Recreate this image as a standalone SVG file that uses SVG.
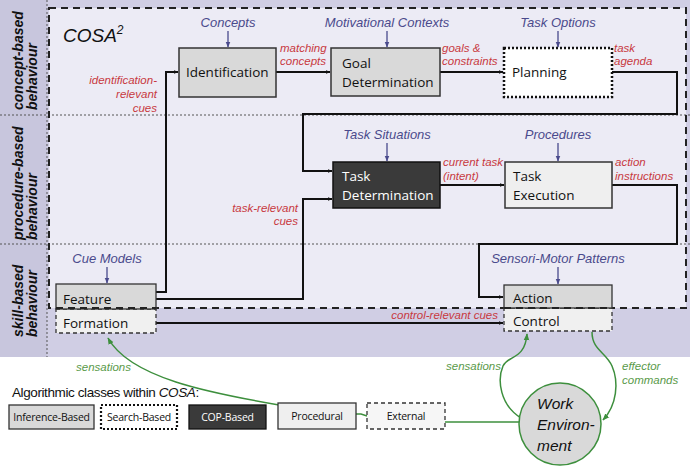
<svg xmlns="http://www.w3.org/2000/svg" width="692" height="471" viewBox="0 0 692 471">
<style>
.node{font-family:"Open Sans","Liberation Sans",sans-serif;font-size:13.5px;fill:#111}
.blue{font-family:"Liberation Sans",Arial,sans-serif;font-style:italic;font-size:13px;fill:#4a4a8c}
.red{font-family:"Liberation Sans",Arial,sans-serif;font-style:italic;font-size:11.5px;fill:#c8393f}
.grn{font-family:"Liberation Sans",Arial,sans-serif;font-style:italic;font-size:11.5px;fill:#5a9a4a}
.side{font-family:"Liberation Sans",Arial,sans-serif;font-style:italic;font-weight:bold;font-size:14px;fill:#111}
.leg{font-family:"Open Sans","Liberation Sans",sans-serif;font-size:10.5px;letter-spacing:-0.2px;fill:#111;text-anchor:middle}
.conn{fill:none;stroke:#111;stroke-width:2}
.bl{fill:none;stroke:#4a4a8c;stroke-width:1.3}
.gr{fill:none;stroke:#3d8f3d;stroke-width:1.5}
</style>
<defs>
<marker id="ab" viewBox="0 0 10 10" refX="9" refY="5" markerWidth="5" markerHeight="5" orient="auto" markerUnits="userSpaceOnUse"><path d="M0,1 L10,5 L0,9 z" fill="#111"/></marker>
<marker id="abl" viewBox="0 0 10 10" refX="9" refY="5" markerWidth="6" markerHeight="6" orient="auto" markerUnits="userSpaceOnUse"><path d="M0,1 L10,5 L0,9 z" fill="#4a4a8c"/></marker>
<marker id="agr" viewBox="0 0 10 10" refX="9" refY="5" markerWidth="7" markerHeight="7" orient="auto" markerUnits="userSpaceOnUse"><path d="M0,1 L10,5 L0,9 z" fill="#3d8f3d"/></marker>
</defs>

<!-- background -->
<rect x="0" y="0" width="690" height="357" fill="#d0cee4"/>
<rect x="0" y="0" width="47" height="357" fill="#c8c6dd"/>
<rect x="49" y="8" width="637" height="300" fill="#ecebf5"/>
<g stroke="#555" stroke-width="1" stroke-dasharray="2,2" fill="none">
<line x1="0" y1="115" x2="690" y2="115"/>
<line x1="0" y1="244" x2="690" y2="244"/>
<line x1="47" y1="0" x2="47" y2="357"/>
</g>
<rect x="49" y="8" width="637" height="300" fill="none" stroke="#222" stroke-width="2" stroke-dasharray="7,5"/>
<text x="63" y="42" font-family="Liberation Sans, Arial, sans-serif" font-style="italic" font-size="19" fill="#111">COSA<tspan font-size="12" dy="-8">2</tspan></text>

<!-- side labels -->
<text class="side" transform="translate(23,110) rotate(-90)">concept-based<tspan x="0" dy="14">behaviour</tspan></text>
<text class="side" transform="translate(23,240) rotate(-90)">procedure-based<tspan x="0" dy="14">behaviour</tspan></text>
<text class="side" transform="translate(23,337) rotate(-90)">skill-based<tspan x="0" dy="14">behaviour</tspan></text>

<!-- knowledge inputs -->
<g id="inputs">
<text class="blue" x="228" y="27" text-anchor="middle">Concepts</text>
<text class="blue" x="387" y="27" text-anchor="middle">Motivational Contexts</text>
<text class="blue" x="558" y="27" text-anchor="middle">Task Options</text>
<text class="blue" x="387" y="139" text-anchor="middle">Task Situations</text>
<text class="blue" x="558" y="139" text-anchor="middle">Procedures</text>
<text class="blue" x="107" y="263" text-anchor="middle">Cue Models</text>
<text class="blue" x="558" y="263" text-anchor="middle">Sensori-Motor Patterns</text>
<path class="bl" d="M228,31 V47" marker-end="url(#abl)"/>
<path class="bl" d="M387,31 V47" marker-end="url(#abl)"/>
<path class="bl" d="M558,31 V47" marker-end="url(#abl)"/>
<path class="bl" d="M387,143 V161" marker-end="url(#abl)"/>
<path class="bl" d="M558,143 V161" marker-end="url(#abl)"/>
<path class="bl" d="M107,267 V283" marker-end="url(#abl)"/>
<path class="bl" d="M558,267 V284" marker-end="url(#abl)"/>
</g>

<!-- connectors -->
<g id="connectors">
<path class="conn" d="M156,292 H166 V72 H178" marker-end="url(#ab)"/>
<path class="conn" d="M276,72 H330" marker-end="url(#ab)"/>
<path class="conn" d="M440,72 H503" marker-end="url(#ab)"/>
<path class="conn" d="M612,72 H677 V114 H303 V171 H332" marker-end="url(#ab)"/>
<path class="conn" d="M156,299 H303 V199 H332" marker-end="url(#ab)"/>
<path class="conn" d="M440,185 H504" marker-end="url(#ab)"/>
<path class="conn" d="M612,185 H677 V244 H479 V297 H503" marker-end="url(#ab)"/>
<path class="conn" d="M156,323 H503" marker-end="url(#ab)"/>
<path class="gr" d="M279,405 C210,393 130,378 108,338" marker-end="url(#agr)"/>
<path class="gr" d="M356,414 H361 L367,416"/>
<path class="gr" d="M445,422 H519"/>
<path class="gr" d="M521,418 C500,405 497,380 503,366 C508,355 525,360 527,334" marker-end="url(#agr)"/>
<path class="gr" d="M592,332 C592,350 606,352 612,366 C619,382 617,405 603,420" marker-end="url(#agr)"/>
</g>

<!-- connector labels -->
<g id="labels">
<text class="red" x="157" y="84" text-anchor="end">identification-<tspan x="157" dy="14">relevant</tspan><tspan x="157" dy="14">cues</tspan></text>
<text class="red" x="280" y="52">matching<tspan x="280" dy="13">concepts</tspan></text>
<text class="red" x="442" y="52">goals &amp;<tspan x="442" dy="13">constraints</tspan></text>
<text class="red" x="614" y="52">task<tspan x="614" dy="13">agenda</tspan></text>
<text class="red" x="298" y="212" text-anchor="end">task-relevant<tspan x="298" dy="13">cues</tspan></text>
<text class="red" x="443" y="166">current task<tspan x="443" dy="14">(intent)</tspan></text>
<text class="red" x="615" y="166">action<tspan x="615" dy="14">instructions</tspan></text>
<text class="red" x="498" y="319" text-anchor="end">control-relevant cues</text>
<text class="grn" x="76" y="371">sensations</text>
<text class="grn" x="446" y="370">sensations</text>
<text class="grn" x="622" y="370">effector<tspan x="622" dy="14">commands</tspan></text>
</g>

<!-- nodes -->
<g id="identification">
<rect x="179" y="48" width="97" height="49" fill="#d9d9d9" stroke="#333" stroke-width="1.5"/>
<text class="node" x="186" y="77">Identification</text>
</g>
<g id="goal">
<rect x="331" y="48" width="109" height="48" fill="#d9d9d9" stroke="#333" stroke-width="1.5"/>
<text class="node" x="342" y="68">Goal<tspan x="342" dy="19">Determination</tspan></text>
</g>
<g id="planning">
<rect x="504" y="48" width="108" height="49" fill="#ffffff" stroke="#111" stroke-width="2.5" stroke-dasharray="2,2"/>
<text class="node" x="512" y="77">Planning</text>
</g>
<g id="taskdet">
<rect x="333" y="162" width="107" height="46" fill="#3a3a3a" stroke="#111" stroke-width="1.5"/>
<text class="node" x="342" y="181" style="fill:#fff">Task<tspan x="342" dy="19">Determination</tspan></text>
</g>
<g id="taskexec">
<rect x="505" y="162" width="107" height="46" fill="#efefef" stroke="#333" stroke-width="1.5"/>
<text class="node" x="513" y="181">Task<tspan x="513" dy="19">Execution</tspan></text>
</g>
<g id="feature">
<rect x="56" y="309" width="100" height="24" fill="#f0f0f0" stroke="#333" stroke-width="1.3" stroke-dasharray="4,3"/>
<rect x="56" y="284" width="100" height="25" fill="#d9d9d9" stroke="#333" stroke-width="1.3"/>
<text class="node" x="63" y="304">Feature</text>
<text class="node" x="63" y="328">Formation</text>
</g>
<g id="action">
<rect x="504" y="308" width="108" height="23" fill="#f0f0f0" stroke="#333" stroke-width="1.3" stroke-dasharray="4,3"/>
<rect x="504" y="285" width="108" height="23" fill="#d9d9d9" stroke="#333" stroke-width="1.3"/>
<text class="node" x="513" y="303">Action</text>
<text class="node" x="513" y="326">Control</text>
</g>
<line x1="56" y1="308" x2="156" y2="308" stroke="#222" stroke-width="2" stroke-dasharray="7,5"/>
<line x1="504" y1="308" x2="612" y2="308" stroke="#222" stroke-width="2" stroke-dasharray="7,5"/>

<g id="workenv">
<circle cx="560" cy="424" r="41" fill="#d9d9d9" stroke="#3d8f3d" stroke-width="1.5"/>
<text x="537" y="409" font-family="Liberation Sans, Arial, sans-serif" font-style="italic" font-size="15.5" fill="#111">Work<tspan x="537" dy="21">Environ-</tspan><tspan x="537" dy="21">ment</tspan></text>
</g>

<!-- legend -->
<g id="legend">
<text x="12" y="397" font-family="Liberation Sans, Arial, sans-serif" font-size="13.5" letter-spacing="-0.4" fill="#111">Algorithmic classes within <tspan font-style="italic">COSA</tspan>:</text>
<rect x="9" y="405" width="85" height="24" fill="#d9d9d9" stroke="#333" stroke-width="1.3"/>
<text class="leg" x="51.5" y="421">Inference-Based</text>
<rect x="101" y="405" width="76" height="24" fill="#fff" stroke="#111" stroke-width="2.2" stroke-dasharray="2,2"/>
<text class="leg" x="139" y="421">Search-Based</text>
<rect x="189" y="405" width="77" height="24" fill="#3a3a3a" stroke="#111" stroke-width="1.3"/>
<text class="leg" x="227.5" y="421" style="fill:#fff">COP-Based</text>
<rect x="278" y="403" width="78" height="26" fill="#efefef" stroke="#333" stroke-width="1.3"/>
<text class="leg" x="317" y="420">Procedural</text>
<rect x="367" y="403" width="78" height="26" fill="#f6f6f6" stroke="#333" stroke-width="1.3" stroke-dasharray="4,3"/>
<text class="leg" x="406" y="420">External</text>
</g>
</svg>
